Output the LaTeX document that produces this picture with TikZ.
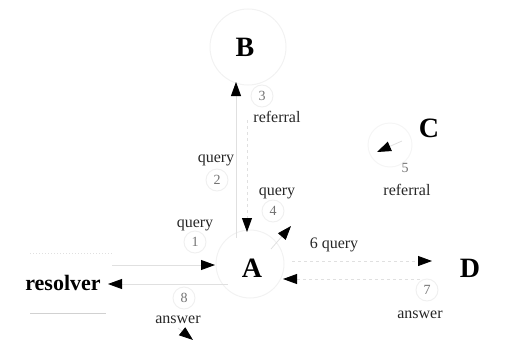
\documentclass[tikz,border=0pt]{standalone}
\usepackage{fontspec}
\setmainfont{Liberation Serif}
\usetikzlibrary{arrows.meta}
\begin{document}
\begin{tikzpicture}[x=1pt,y=-1pt,
  big/.style={font=\fontsize{28}{30}\selectfont\bfseries, inner sep=0pt},
  lbl/.style={font=\fontsize{16}{17}\selectfont, text=black!85, inner sep=1pt},
  num/.style={font=\fontsize{14}{15}\selectfont, text=black!55, inner sep=0pt},
  ring/.style={circle, draw=black!6, line width=1pt, minimum size=22pt},
  faint/.style={draw=black!12, line width=0.8pt},
  head/.style={-{Triangle[length=14pt,width=10pt,color=black,fill=black]}},
]
\useasboundingbox (0,0) rectangle (505,348);
% main nodes
\node[big] (B) at (245,47) {B};
\node[big] (C) at (429,128) {C};
\node[big] (A) at (252,268) {A};
\node[big] (D) at (470,268) {D};
\node[font=\fontsize{22}{24}\selectfont\bfseries, inner sep=0pt] (res) at (63,283) {resolver};
% faint rings
\node[circle, draw=black!5, line width=1pt, minimum size=76pt] (Bring) at (248,47) {};
\node[circle, draw=black!5, line width=1pt, minimum size=68pt] (Aring) at (250,264) {};
\node[circle, draw=black!4, line width=1pt, minimum size=44pt] (Cring) at (390,145) {};
% numbered rings
\node[num, ring] (n1) at (195,242) {1};
\node[num, ring] (n2) at (217,180) {2};
\node[num, ring] (n3) at (262,96) {3};
\node[num, ring] (n4) at (273,211) {4};
\node[num] (n5) at (405,168) {5};
\node[num, ring] (n7) at (427,290) {7};
\node[num, ring] (n8) at (184,298) {8};
% labels
\node[lbl] (l1) at (195,225) {query};
\node[lbl] (l2) at (216,160) {query};
\node[lbl] (l3) at (277,117) {referral};
\node[lbl] (l4) at (277,193) {query};
\node[lbl] (l5) at (407,190) {referral};
\node[lbl] (l6) at (334,245) {6 query};
\node[lbl] (l7) at (420,315) {answer};
\node[lbl] (l8) at (178,320) {answer};
% arrow endpoints
\coordinate (q1s) at (112,265); \coordinate (q1e) at (215,265);
\coordinate (a8s) at (228,284); \coordinate (a8e) at (108,284);
\coordinate (q2s) at (247,120); \coordinate (q2e) at (247,232);
\coordinate (r3s) at (236,238); \coordinate (r3e) at (236,82);
\coordinate (q4s) at (271,249); \coordinate (q4e) at (291,226);
\coordinate (r5s) at (402,141); \coordinate (r5e) at (377,152);
\coordinate (q6s) at (292,261); \coordinate (q6e) at (432,261);
\coordinate (a7s) at (420,279); \coordinate (a7e) at (283,279);
\coordinate (xs) at (178,328); \coordinate (xe) at (193,340);
% connectors
\draw[faint, head] (q1s) -- (q1e);
\draw[faint, head] (a8s) -- (a8e);
\draw[faint, dashed, head] (q2s) -- (q2e);
\draw[faint, head] (r3s) -- (r3e);
\draw[faint, head] (q4s) -- (q4e);
\draw[faint, head] (r5s) -- (r5e);
\draw[faint, dashed, head] (q6s) -- (q6e);
\draw[faint, dashed, head] (a7s) -- (a7e);
\draw[faint, head] (xs) -- (xe);
% faint stray lines
\coordinate (f1s) at (30,253); \coordinate (f1e) at (112,253);
\coordinate (f2s) at (30,313); \coordinate (f2e) at (106,313);
\draw[black!12, dotted, line width=1pt] (f1s) -- (f1e);
\draw[black!18, line width=0.8pt] (f2s) -- (f2e);
\end{tikzpicture}
\end{document}
